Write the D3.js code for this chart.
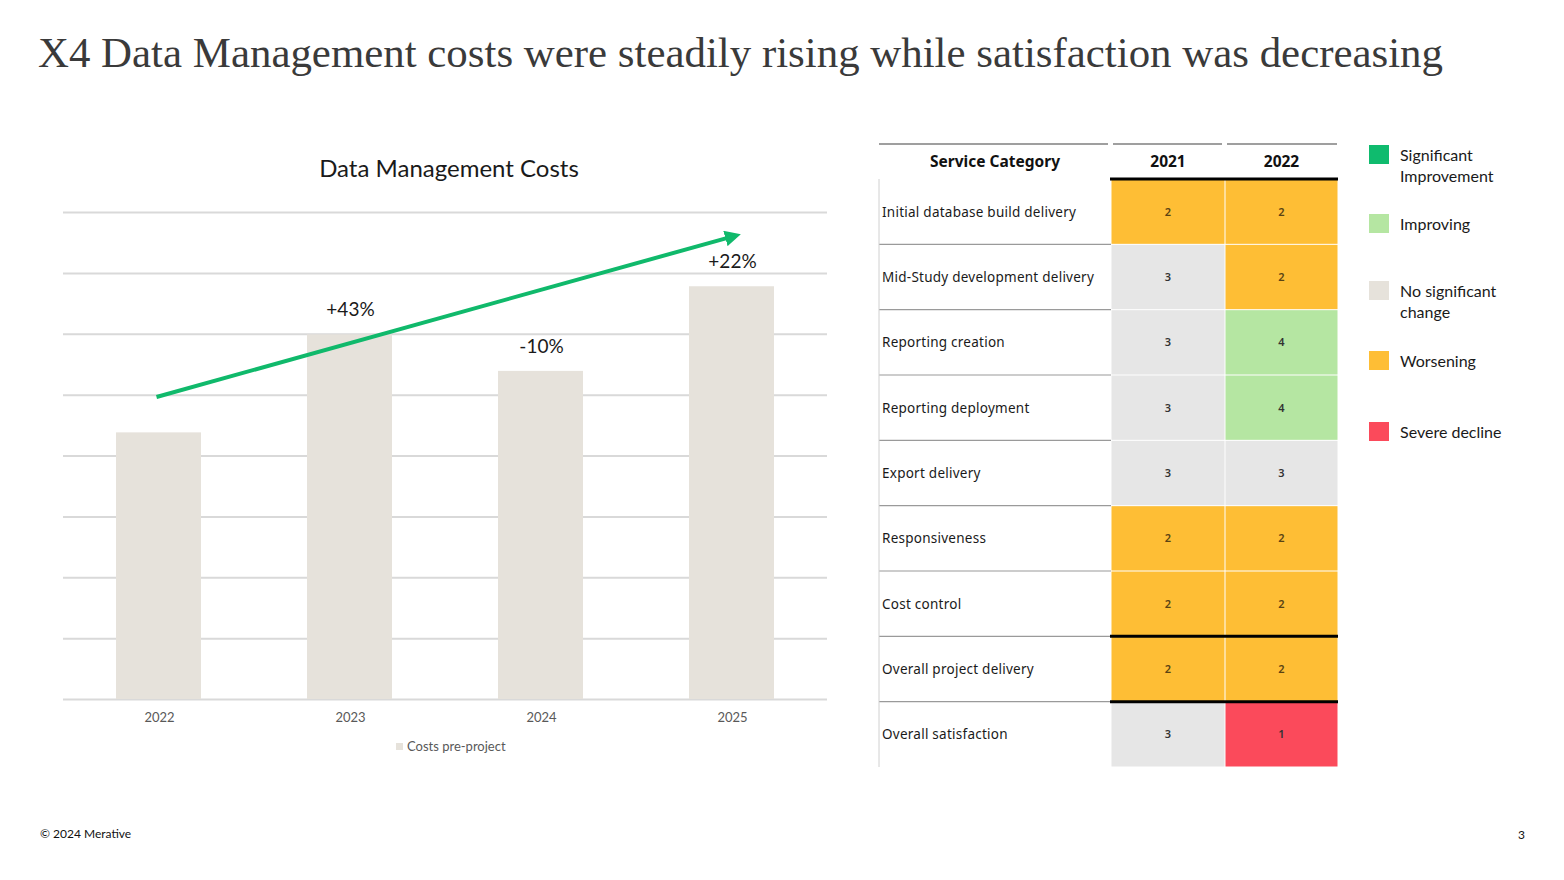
<!DOCTYPE html>
<html><head><meta charset="utf-8">
<script src="https://cdn.jsdelivr.net/npm/d3@7"></script>
<style>body{margin:0;background:#fff}svg{display:block}</style>
</head><body>
<svg id="c" width="1564" height="880"></svg>
<script>
// ---- data ----
const years = ["2022","2023","2024","2025"];
const costs = [4.38, 5.99, 5.39, 6.78];
const changeLabels = ["", "+43%", "-10%", "+22%"];
const yTicks = [0,1,2,3,4,5,6,7,8];
const serviceCategories = ["Initial database build delivery","Mid-Study development delivery","Reporting creation","Reporting deployment","Export delivery","Responsiveness","Cost control","Overall project delivery","Overall satisfaction"];
const tableYears = ["2021","2022"];
const scores2021 = [2,3,3,3,3,2,2,2,3];
const scores2022 = [2,2,4,4,3,2,2,2,1];
const legendLabels = [["Significant","Improvement"],["Improving"],["No significant","change"],["Worsening"],["Severe decline"]];
const legendScores = [5,4,3,2,1];

const svg = d3.select("#c");
const CAL = "Lato, 'Open Sans', sans-serif";
const PLEX = "'Noto Sans', Inter, sans-serif";

// title
svg.append("text").attr("x",38).attr("y",67).attr("font-family","'Liberation Serif', serif")
  .attr("font-size",43).attr("fill","#3a3a3a").attr("textLength",1405).attr("lengthAdjust","spacingAndGlyphs")
  .text("X4 Data Management costs were steadily rising while satisfaction was decreasing");

// ---- bar chart ----
const x = d3.scaleBand().domain(years).range([63,827]).paddingInner(0.555).paddingOuter(0.2775);
const y = d3.scaleLinear().domain([0,8]).range([699,212]);

svg.append("text").attr("x",449).attr("y",177).attr("text-anchor","middle").attr("font-family",CAL)
  .attr("font-size",24).attr("fill","#1a1a1a").text("Data Management Costs");

const yAxis = d3.axisLeft(y).tickValues(yTicks).tickSize(-(827-63)).tickFormat("");
const gy = svg.append("g").attr("transform","translate(63,0)").call(yAxis);
gy.select(".domain").remove();
gy.selectAll(".tick line").attr("stroke","#d9d9d9").attr("stroke-width",2);

svg.append("g").selectAll("rect").data(years).join("rect")
  .attr("x",d=>x(d)).attr("width",x.bandwidth())
  .attr("y",(d,i)=>y(costs[i])).attr("height",(d,i)=>y(0)-y(costs[i]))
  .attr("fill","#e6e2db");

const xAxis = d3.axisBottom(x).tickSize(0).tickPadding(14);
const gx = svg.append("g").attr("transform","translate(1,699)").call(xAxis);
gx.select(".domain").remove();
gx.selectAll("text").attr("font-family",CAL).attr("font-size",13).attr("fill","#595959");

svg.append("g").selectAll("text").data(years).join("text")
  .attr("x",d=>x(d)+x.bandwidth()/2+1).attr("y",(d,i)=>y(costs[i])-18)
  .attr("text-anchor","middle").attr("font-family",CAL).attr("font-size",19).attr("fill","#1a1a1a")
  .text((d,i)=>changeLabels[i]);

// trend arrow
const defs = svg.append("defs");
defs.append("marker").attr("id","ah").attr("viewBox","0 0 10 10").attr("refX",2).attr("refY",5)
  .attr("markerWidth",4).attr("markerHeight",4).attr("orient","auto")
  .append("path").attr("d","M0,0 L10,5 L0,10 z").attr("fill","#10b96b");
const a0 = {x: x("2022")+x.bandwidth()/2-2, y: 397};
const a1 = {x: x("2025")+x.bandwidth()/2+6, y: 235};
svg.append("line").attr("x1",a0.x).attr("y1",a0.y).attr("x2",a1.x-9).attr("y2",a1.y+2.6)
  .attr("stroke","#10b96b").attr("stroke-width",4).attr("marker-end","url(#ah)");

// legend
svg.append("rect").attr("x",396).attr("y",743).attr("width",7).attr("height",7).attr("fill","#e6e2db");
svg.append("text").attr("x",407).attr("y",751).attr("font-family",CAL).attr("font-size",13).attr("fill","#595959").text("Costs pre-project");

// ---- table ----
const color = d3.scaleOrdinal().domain([5,4,3,2,1]).range(["#0fbb6e","#b5e6a2","#e6e6e6","#febe35","#fb4a5b"]);
const legendColor = d3.scaleOrdinal().domain([5,4,3,2,1]).range(["#0fbb6e","#b5e6a2","#e6e2db","#febe35","#fb4a5b"]);
const colX = {cat:[879,1111], "2021":[1111,1225], "2022":[1225,1338]};
const rowY = d3.scaleBand().domain(serviceCategories).range([179,767]);

// header top lines
[[879,1108],[1113,1222],[1227,1337]].forEach(s=>{
  svg.append("line").attr("x1",s[0]).attr("x2",s[1]).attr("y1",144).attr("y2",144).attr("stroke","#7f7f7f").attr("stroke-width",1.5);
});
svg.append("text").attr("x",995).attr("y",167).attr("text-anchor","middle").attr("font-family",PLEX)
  .attr("font-weight","bold").attr("font-size",15.5).attr("fill","#111").text("Service Category");
tableYears.forEach(yr=>{
  svg.append("text").attr("x",(colX[yr][0]+colX[yr][1])/2).attr("y",167).attr("text-anchor","middle")
    .attr("font-family",PLEX).attr("font-weight","bold").attr("font-size",15.5).attr("fill","#111").text(yr);
});

const rows = svg.append("g").selectAll("g").data(serviceCategories).join("g")
  .attr("transform",d=>`translate(0,${rowY(d)})`);
const h = rowY.bandwidth();
[scores2021, scores2022].forEach((arr,ci)=>{
  const cx = colX[tableYears[ci]];
  rows.append("rect").attr("x",cx[0]+0.5).attr("y",0.5).attr("width",cx[1]-cx[0]-1).attr("height",h-1)
    .attr("fill",(d,i)=>color(arr[i]));
  rows.append("text").attr("x",(cx[0]+cx[1])/2).attr("y",h/2+4).attr("text-anchor","middle")
    .attr("font-family",PLEX).attr("font-size",11).attr("fill",(d,i)=>arr[i]===2?"#5a4313":"#333")
    .attr("font-weight",600).text((d,i)=>arr[i]);
});
rows.append("text").attr("x",882).attr("y",h/2+5).attr("font-family",PLEX).attr("font-size",13.5)
  .attr("letter-spacing",0.25).attr("fill","#1a1a1a").text(d=>d);
// row separators in category column
rows.filter((d,i)=>i>0).append("line").attr("x1",879).attr("x2",1111).attr("y1",0).attr("y2",0)
  .attr("stroke","#9a9a9a").attr("stroke-width",1.2);
// left border
svg.append("line").attr("x1",879).attr("x2",879).attr("y1",179).attr("y2",767).attr("stroke","#d0d0d0").attr("stroke-width",1);
// thick black lines
const thickYs = [179, rowY("Overall project delivery"), rowY("Overall satisfaction")];
thickYs.forEach(yy=>{
  svg.append("line").attr("x1",1110).attr("x2",1338).attr("y1",yy).attr("y2",yy).attr("stroke","#000").attr("stroke-width",3);
});

// legend right
const legY = [145,214,281,351,422];
const lg = svg.append("g").selectAll("g").data(legendLabels).join("g").attr("transform",(d,i)=>`translate(1369,${legY[i]})`);
lg.append("rect").attr("width",20).attr("height",19).attr("fill",(d,i)=>legendColor(legendScores[i]));
lg.append("text").attr("x",31).attr("y",16).attr("font-family",CAL).attr("font-size",16).attr("fill","#1a1a1a")
  .selectAll("tspan").data(d=>d).join("tspan").attr("x",31).attr("dy",(d,i)=>i?21:0).text(d=>d);

// footer
svg.append("text").attr("x",40).attr("y",838).attr("font-family",CAL).attr("font-size",12).attr("fill","#111").text("© 2024 Merative");
svg.append("text").attr("x",1525).attr("y",839).attr("text-anchor","end").attr("font-family",CAL).attr("font-size",12).attr("fill","#111").text("3");
</script>
</body></html>
